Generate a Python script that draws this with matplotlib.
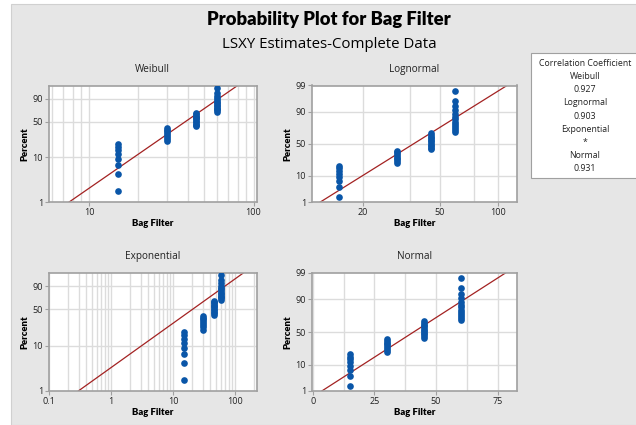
import math
from statistics import NormalDist
import numpy as np
import matplotlib
matplotlib.use("Agg")
import matplotlib.pyplot as plt
from matplotlib.patches import Rectangle

# Bag Filter readings (tied values, counts)
bag_values = [15, 30, 45, 60]
bag_counts = [8, 8, 11, 13]

# LSXY fit parameters
weibull_shape, weibull_scale = 2.60, 44.5
lognorm_loc, lognorm_scale = 3.597, 0.478
expo_mean = 29.5
normal_mean, normal_sd = 40.9, 16.0

corr_names = ["Weibull", "Lognormal", "Exponential", "Normal"]
corr_values = ["0.927", "0.903", "*", "0.931"]

pct_ticks = [1, 10, 50, 90]
pct_ticks_norm = [1, 10, 50, 90, 99]

plt.rcParams['font.family'] = ['Open Sans', 'DejaVu Sans']
heavy = ['Lato', 'DejaVu Sans']

nd = NormalDist()


def z_norm(p):
    return nd.inv_cdf(p / 100.0)


def z_sev(p):
    return math.log(-math.log(1 - p / 100.0))


# plotting positions (Benard median ranks)
x = np.repeat(bag_values, bag_counts).astype(float)
n = len(x)
ranks = np.arange(1, n + 1)
pct = (ranks - 0.3) / (n + 0.4) * 100

BG = '#e6e6e6'
GRID = '#dcdcdc'
SPINE = '#a0a0a0'
BLUE = '#0a56a8'
RED = '#a32222'

fig = plt.figure(figsize=(6.36, 4.25), dpi=100)
fig.patch.set_facecolor('white')
fig.add_artist(Rectangle((11 / 636, 0), 1, 1 - 4 / 425, transform=fig.transFigure,
                         facecolor=BG, edgecolor='#d0d0d0', lw=0.8, zorder=0))

panels = [
    dict(name='Weibull', rect=[48.5 / 636, 1 - 202 / 425, 208.5 / 636, 116.5 / 425],
         zf=z_sev, log=True, xlim=(5.68, 105),
         line=lambda z: weibull_scale * np.exp(z / weibull_shape),
         major=[10, 100], labels=['10', '100'],
         minor=[6, 7, 8, 9, 20, 30, 40, 50, 60, 70, 80, 90],
         yt=pct_ticks),
    dict(name='Lognormal', rect=[311.5 / 636, 1 - 202 / 425, 205.5 / 636, 116.5 / 425],
         zf=z_norm, log=True, xlim=(10.8, 125),
         line=lambda z: np.exp(lognorm_loc + lognorm_scale * z),
         major=[20, 50, 100], labels=['20', '50', '100'],
         minor=[35, 75], yt=pct_ticks_norm),
    dict(name='Exponential', rect=[48.5 / 636, 1 - 391 / 425, 208.5 / 636, 118 / 425],
         zf=z_sev, log=True, xlim=(0.098, 226),
         line=lambda z: expo_mean * np.exp(z),
         major=[0.1, 1, 10, 100], labels=['0.1', '1', '10', '100'],
         minor=[0.2, 0.3, 0.4, 0.5, 0.6, 0.7, 0.8, 0.9, 2, 3, 4, 5, 6, 7, 8, 9,
                20, 30, 40, 50, 60, 70, 80, 90, 200],
         yt=pct_ticks),
    dict(name='Normal', rect=[311.5 / 636, 1 - 391 / 425, 205.5 / 636, 118 / 425],
         zf=z_norm, log=False, xlim=(-0.5, 82.8),
         line=lambda z: normal_mean + normal_sd * z,
         major=[0, 25, 50, 75], labels=['0', '25', '50', '75'],
         minor=[12.5, 37.5, 62.5], yt=pct_ticks_norm),
]

for p in panels:
    ax = fig.add_axes(p['rect'])
    ax.set_facecolor('white')
    zf = p['zf']
    zlo, zhi = zf(1), zf(99)
    if p['log']:
        ax.set_xscale('log')
    ax.set_xlim(*p['xlim'])
    ax.set_ylim(zlo, zhi)

    # grid
    for gx in p['major'] + p['minor']:
        ax.axvline(gx, color=GRID, lw=1.0, zorder=0)
    for gy in [10, 50, 90]:
        ax.axhline(zf(gy), color=GRID, lw=1.0, zorder=0)

    # fitted line
    zz = np.linspace(zlo, zhi, 200)
    ax.plot(p['line'](zz), zz, color=RED, lw=0.9, zorder=2)

    # data points
    zp = np.array([zf(v) for v in pct])
    ax.plot(x, zp, 'o', color=BLUE, ms=4.8, mec='none', zorder=3, clip_on=True)

    ax.set_xticks(p['major'])
    ax.set_xticklabels(p['labels'])
    ax.set_xticks(p['minor'], minor=True)
    ax.tick_params(axis='x', which='minor', length=0)
    ax.set_yticks([zf(v) for v in p['yt']])
    ax.set_yticklabels([str(v) for v in p['yt']])
    ax.tick_params(which='major', length=3, width=0.8, color=SPINE,
                   labelsize=6.5, labelcolor='#222222', pad=1)
    for s in ax.spines.values():
        s.set_color(SPINE)
        s.set_linewidth(1.2)

    ax.set_title(p['name'], fontsize=7.2, color='#222222', pad=10)
    ax.set_xlabel('Bag Filter', fontsize=6.8, fontweight='heavy', family=heavy, labelpad=2)
    ax.set_ylabel('Percent', fontsize=6.8, fontweight='heavy', family=heavy, labelpad=2)

fig.text(329 / 636, 1 - 20 / 425, 'Probability Plot for Bag Filter', ha='center', va='center',
         fontsize=13.2, fontweight='heavy', family=heavy)
fig.text(329 / 636, 1 - 44 / 425, 'LSXY Estimates-Complete Data', ha='center', va='center',
         fontsize=10.8)

# correlation coefficient box
fig.add_artist(Rectangle((531 / 636, 1 - 178 / 425), 110 / 636, 125 / 425,
                         transform=fig.transFigure, facecolor='white',
                         edgecolor='#a0a0a0', lw=0.8, zorder=1))
lines = ['Correlation Coefficient']
for nm, v in zip(corr_names, corr_values):
    lines += [nm, v]
for k, t in enumerate(lines):
    fig.text(585 / 636, 1 - (63.3 + 13.2 * k) / 425, t, ha='center', va='center',
             fontsize=6.3, color='#222222', zorder=2)

fig.savefig('out.png', dpi=100)
